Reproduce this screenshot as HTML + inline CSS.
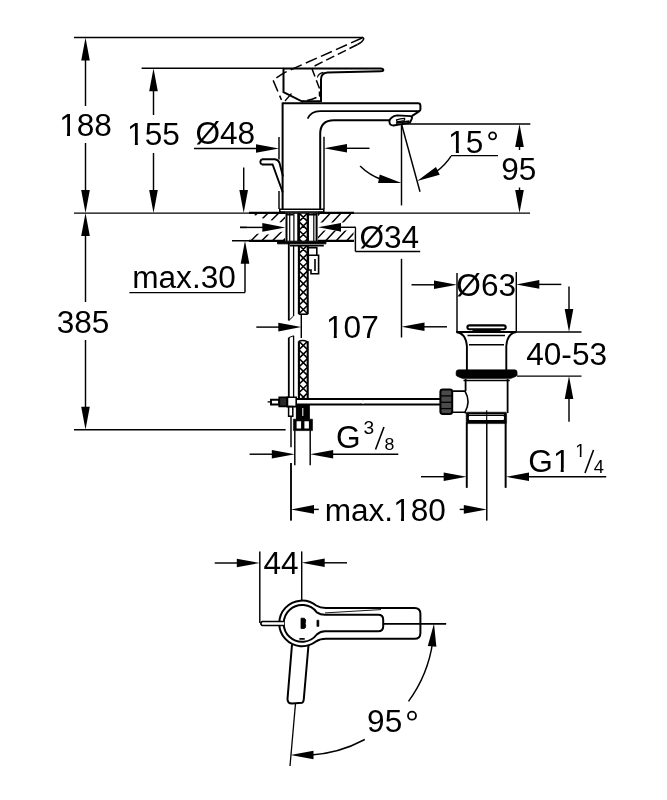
<!DOCTYPE html>
<html><head><meta charset="utf-8"><style>
html,body{margin:0;padding:0;background:#fff;}
svg{display:block;filter:grayscale(100%);}
text{font-family:"Liberation Sans",sans-serif;fill:#000;stroke:none;}
</style></head><body>
<svg width="667" height="800" viewBox="0 0 667 800" stroke="#000" stroke-linecap="butt">
<rect width="667" height="800" fill="#fff" stroke="none"/>
<g stroke="none">
</g>
<line x1="74" y1="37.5" x2="363" y2="37.5" stroke-width="1.45" />
<polygon points="85.50,37.50 81.20,60.50 89.80,60.50" fill="#000" stroke="none"/>
<line x1="85.5" y1="50" x2="85.5" y2="106" stroke-width="1.45" />
<text transform="translate(59.18,136.14) scale(1.02,1)" font-size="31">188</text>
<rect transform="translate(59.18,136.14) scale(1.02,1)" x="1.24" y="-3.72" width="6.39" height="4.65" fill="#fff" stroke="none"/>
<rect transform="translate(59.18,136.14) scale(1.02,1)" x="10.60" y="-3.72" width="6.76" height="4.65" fill="#fff" stroke="none"/>
<line x1="85.5" y1="143" x2="85.5" y2="200" stroke-width="1.45" />
<polygon points="85.50,213.10 89.80,190.10 81.20,190.10" fill="#000" stroke="none"/>
<line x1="74" y1="213.1" x2="530" y2="213.1" stroke-width="1.45" />
<polygon points="85.50,213.10 81.20,236.10 89.80,236.10" fill="#000" stroke="none"/>
<line x1="85.5" y1="225" x2="85.5" y2="302" stroke-width="1.45" />
<text transform="translate(56.70,332.75) scale(1.02,1)" font-size="31">385</text>
<line x1="85.5" y1="340" x2="85.5" y2="415" stroke-width="1.45" />
<polygon points="85.50,429.80 89.80,406.80 81.20,406.80" fill="#000" stroke="none"/>
<line x1="74" y1="429.8" x2="285.6" y2="429.8" stroke-width="1.45" />
<line x1="141.6" y1="68.2" x2="284" y2="68.2" stroke-width="1.45" />
<polygon points="153.50,68.20 149.20,91.20 157.80,91.20" fill="#000" stroke="none"/>
<line x1="153.5" y1="80" x2="153.5" y2="115" stroke-width="1.45" />
<text transform="translate(127.06,144.79) scale(1.02,1)" font-size="31">155</text>
<rect transform="translate(127.06,144.79) scale(1.02,1)" x="1.24" y="-3.72" width="6.39" height="4.65" fill="#fff" stroke="none"/>
<rect transform="translate(127.06,144.79) scale(1.02,1)" x="10.60" y="-3.72" width="6.76" height="4.65" fill="#fff" stroke="none"/>
<line x1="153.5" y1="153" x2="153.5" y2="200" stroke-width="1.45" />
<polygon points="153.50,213.10 157.80,190.10 149.20,190.10" fill="#000" stroke="none"/>
<text transform="translate(195.42,144.35) scale(1.02,1)" font-size="31">Ø48</text>
<line x1="194" y1="148.5" x2="262" y2="148.5" stroke-width="1.45" />
<polygon points="279.00,148.50 256.00,144.20 256.00,152.80" fill="#000" stroke="none"/>
<line x1="279" y1="137" x2="279" y2="159.5" stroke-width="1.45" />
<line x1="279" y1="191" x2="279" y2="209" stroke-width="1.45" />
<polygon points="324.00,148.30 347.00,152.60 347.00,144.00" fill="#000" stroke="none"/>
<line x1="340" y1="148.3" x2="369.5" y2="148.3" stroke-width="1.45" />
<line x1="324" y1="136.7" x2="324" y2="209" stroke-width="1.45" />
<line x1="243.7" y1="167.5" x2="243.7" y2="200" stroke-width="1.45" />
<polygon points="243.70,213.10 248.00,190.10 239.40,190.10" fill="#000" stroke="none"/>
<polygon points="245.00,240.70 240.70,263.70 249.30,263.70" fill="#000" stroke="none"/>
<line x1="245" y1="255" x2="245" y2="292.6" stroke-width="1.45" />
<line x1="129.4" y1="292.6" x2="245" y2="292.6" stroke-width="1.45" />
<text transform="translate(132.22,287.69) scale(1.02,1)" font-size="31">max.30</text>
<line x1="232" y1="240.7" x2="285" y2="240.7" stroke-width="1.45" />
<line x1="318" y1="240.7" x2="354" y2="240.7" stroke-width="1.45" />
<line x1="240" y1="227.4" x2="270" y2="227.4" stroke-width="1.45" />
<polygon points="285.30,227.40 262.30,223.10 262.30,231.70" fill="#000" stroke="none"/>
<polygon points="318.00,227.30 341.00,231.60 341.00,223.00" fill="#000" stroke="none"/>
<line x1="335" y1="227.3" x2="355.4" y2="227.3" stroke-width="1.45" />
<line x1="355.4" y1="227.3" x2="355.4" y2="251.5" stroke-width="1.45" />
<line x1="355.4" y1="251.5" x2="420.2" y2="251.5" stroke-width="1.45" />
<text transform="translate(359.46,248.00) scale(1.02,1)" font-size="31">Ø34</text>
<line x1="401.5" y1="124" x2="401.5" y2="205.4" stroke-width="1.45" />
<line x1="401.5" y1="258.8" x2="401.5" y2="337.5" stroke-width="1.45" />
<line x1="256.3" y1="327.1" x2="285" y2="327.1" stroke-width="1.45" />
<polygon points="301.30,327.10 278.30,322.80 278.30,331.40" fill="#000" stroke="none"/>
<line x1="301.3" y1="314" x2="301.3" y2="338" stroke-width="1.45" />
<polygon points="401.50,326.80 424.50,331.10 424.50,322.50" fill="#000" stroke="none"/>
<line x1="420" y1="326.8" x2="447" y2="326.8" stroke-width="1.45" />
<text transform="translate(325.98,337.65) scale(1.02,1)" font-size="31">107</text>
<rect transform="translate(325.98,337.65) scale(1.02,1)" x="1.24" y="-3.72" width="6.39" height="4.65" fill="#fff" stroke="none"/>
<rect transform="translate(325.98,337.65) scale(1.02,1)" x="10.60" y="-3.72" width="6.76" height="4.65" fill="#fff" stroke="none"/>
<line x1="457" y1="273" x2="457" y2="332" stroke-width="1.45" />
<line x1="516.3" y1="272" x2="516.3" y2="331.5" stroke-width="1.45" />
<line x1="411.5" y1="284.8" x2="440" y2="284.8" stroke-width="1.45" />
<polygon points="457.00,284.80 434.00,280.50 434.00,289.10" fill="#000" stroke="none"/>
<polygon points="516.30,284.40 539.30,288.70 539.30,280.10" fill="#000" stroke="none"/>
<line x1="535" y1="284.4" x2="561.3" y2="284.4" stroke-width="1.45" />
<text transform="translate(456.37,296.15) scale(1.02,1)" font-size="31">Ø63</text>
<line x1="569" y1="286.5" x2="569" y2="315" stroke-width="1.45" />
<polygon points="569.00,332.00 573.30,309.00 564.70,309.00" fill="#000" stroke="none"/>
<line x1="516" y1="332" x2="581.5" y2="332" stroke-width="1.45" />
<line x1="517" y1="376.1" x2="581.5" y2="376.1" stroke-width="1.45" />
<polygon points="569.00,376.10 564.70,399.10 573.30,399.10" fill="#000" stroke="none"/>
<line x1="569" y1="390" x2="569" y2="421.7" stroke-width="1.45" />
<text transform="translate(526.20,364.89) scale(1.02,1)" font-size="31">40-53</text>
<line x1="402" y1="124" x2="530.3" y2="124" stroke-width="1.45" />
<polygon points="519.50,124.00 515.20,147.00 523.80,147.00" fill="#000" stroke="none"/>
<line x1="519.5" y1="140" x2="519.5" y2="150" stroke-width="1.45" />
<text transform="translate(501.14,180.09) scale(1.02,1)" font-size="31">95</text>
<line x1="519.5" y1="187.5" x2="519.5" y2="200" stroke-width="1.45" />
<polygon points="519.50,213.10 523.80,190.10 515.20,190.10" fill="#000" stroke="none"/>
<line x1="401.5" y1="124" x2="420" y2="191.8" stroke-width="1.45" />
<path d="M360.07,166.01 A59,59 0 0 0 381.45,179.49" fill="none" stroke-width="1.45"/>
<polygon points="401.50,183.00 379.70,174.51 378.10,182.96" fill="#000" stroke="none"/>
<path d="M451.04,156.05 A59,59 0 0 1 435.56,172.17" fill="none" stroke-width="1.45"/>
<polygon points="417.17,180.88 439.72,174.63 435.94,166.91" fill="#000" stroke="none"/>
<line x1="451" y1="155.6" x2="498" y2="155.6" stroke-width="1.45" />
<text transform="translate(448.07,152.60) scale(1.02,1)" font-size="31">15</text>
<rect transform="translate(448.07,152.60) scale(1.02,1)" x="1.24" y="-3.72" width="6.39" height="4.65" fill="#fff" stroke="none"/>
<rect transform="translate(448.07,152.60) scale(1.02,1)" x="10.60" y="-3.72" width="6.76" height="4.65" fill="#fff" stroke="none"/>
<circle cx="492.6" cy="135.8" r="3.5" fill="none" stroke-width="1.8"/>
<line x1="294.8" y1="430.6" x2="294.8" y2="465.3" stroke-width="1.45" />
<line x1="310.2" y1="430.6" x2="310.2" y2="465.3" stroke-width="1.45" />
<line x1="249.6" y1="454.2" x2="275" y2="454.2" stroke-width="1.45" />
<polygon points="294.80,454.20 271.80,449.90 271.80,458.50" fill="#000" stroke="none"/>
<polygon points="310.20,454.20 333.20,458.50 333.20,449.90" fill="#000" stroke="none"/>
<line x1="330" y1="454.2" x2="398.3" y2="454.2" stroke-width="1.45" />
<text transform="translate(335.99,448.00) scale(1.02,1)" font-size="31">G</text>
<text transform="translate(363.50,434.30) scale(1.02,1)" font-size="18.8">3</text>
<line x1="375.5" y1="449.5" x2="384" y2="427" stroke-width="1.6" />
<text transform="translate(384.60,449.50) scale(1.02,1)" font-size="17.4">8</text>
<line x1="421" y1="476.7" x2="450" y2="476.7" stroke-width="1.45" />
<polygon points="466.70,476.70 443.70,472.40 443.70,481.00" fill="#000" stroke="none"/>
<polygon points="506.00,476.80 529.00,481.10 529.00,472.50" fill="#000" stroke="none"/>
<line x1="525" y1="476.8" x2="606.2" y2="476.8" stroke-width="1.45" />
<text transform="translate(528.30,472.20) scale(1.02,1)" font-size="31">G1</text>
<rect transform="translate(528.30,472.20) scale(1.02,1)" x="25.36" y="-3.72" width="6.39" height="4.65" fill="#fff" stroke="none"/>
<rect transform="translate(528.30,472.20) scale(1.02,1)" x="34.72" y="-3.72" width="6.76" height="4.65" fill="#fff" stroke="none"/>
<text transform="translate(575.20,456.90) scale(1.02,1)" font-size="18">1</text>
<rect transform="translate(575.20,456.90) scale(1.02,1)" x="0.72" y="-2.16" width="3.71" height="2.70" fill="#fff" stroke="none"/>
<rect transform="translate(575.20,456.90) scale(1.02,1)" x="6.16" y="-2.16" width="3.92" height="2.70" fill="#fff" stroke="none"/>
<line x1="585" y1="473" x2="593.5" y2="450" stroke-width="1.6" />
<text transform="translate(593.87,472.50) scale(1.02,1)" font-size="18">4</text>
<line x1="466.7" y1="423" x2="466.7" y2="487.7" stroke-width="1.6" />
<line x1="505.6" y1="423" x2="505.6" y2="487.7" stroke-width="1.6" />
<line x1="486.8" y1="412" x2="486.8" y2="520.4" stroke-width="1.1" />
<line x1="291" y1="463" x2="291" y2="520.4" stroke-width="1.45" />
<polygon points="291.00,509.40 314.00,513.70 314.00,505.10" fill="#000" stroke="none"/>
<line x1="310" y1="509.4" x2="318.8" y2="509.4" stroke-width="1.45" />
<text transform="translate(324.64,521.00) scale(1.02,1)" font-size="31">max.180</text>
<rect transform="translate(324.64,521.00) scale(1.02,1)" x="68.42" y="-3.72" width="6.39" height="4.65" fill="#fff" stroke="none"/>
<rect transform="translate(324.64,521.00) scale(1.02,1)" x="77.78" y="-3.72" width="6.76" height="4.65" fill="#fff" stroke="none"/>
<line x1="459.7" y1="509.4" x2="470" y2="509.4" stroke-width="1.45" />
<polygon points="486.80,509.40 463.80,505.10 463.80,513.70" fill="#000" stroke="none"/>
<line x1="259.8" y1="551.5" x2="259.8" y2="623" stroke-width="1.45" />
<line x1="301.7" y1="551.4" x2="301.7" y2="601" stroke-width="1.45" />
<line x1="214.7" y1="563" x2="240" y2="563" stroke-width="1.45" />
<polygon points="259.80,563.00 236.80,558.70 236.80,567.30" fill="#000" stroke="none"/>
<polygon points="301.70,562.80 324.70,567.10 324.70,558.50" fill="#000" stroke="none"/>
<line x1="320" y1="562.8" x2="347" y2="562.8" stroke-width="1.45" />
<text transform="translate(263.41,573.95) scale(1.02,1)" font-size="31">44</text>
<path d="M364.78,739.51 A132,132 0 0 1 309.02,755.21" fill="none" stroke-width="1.45"/>
<polygon points="290.50,754.90 313.48,759.29 313.51,750.69" fill="#000" stroke="none"/>
<path d="M408.52,701.36 A132,132 0 0 0 432.70,641.88" fill="none" stroke-width="1.45"/>
<polygon points="434.00,623.40 427.80,645.96 436.37,646.68" fill="#000" stroke="none"/>
<text transform="translate(367.09,731.70) scale(1.02,1)" font-size="31">95</text>
<circle cx="412" cy="715.7" r="4.0" fill="none" stroke-width="1.8"/>
<line x1="383" y1="623.7" x2="446" y2="623.7" stroke-width="1.45" />
<line x1="282.6" y1="102.5" x2="282.6" y2="209.5" stroke-width="2.0" />
<path d="M282.6,103.3 L418,103.3 Q420.4,103.3 420.4,105.7 L420.4,109.5 Q420.4,111 418.8,111.2" stroke-width="2.0" fill="none" />
<path d="M307.6,118.7 Q311,111.1 320,111.1 L419,111.1" stroke-width="1.6" fill="none" />
<line x1="419" y1="111.4" x2="411.8" y2="116.2" stroke-width="2.0" />
<path d="M320.2,209.5 L320.2,134 Q320.2,120.3 334,120.3 L389.6,120.3" stroke-width="2.0" fill="none" />
<path d="M389.4,121.7 Q389.6,119.3 391.2,118 Q393.8,115.6 397.2,115.4 L410.7,116.1 Q412.4,116.8 411.9,118.3 L410,122.6 L393.5,125.5 Q389.6,125.4 389.4,121.7 Z" stroke-width="1.9" fill="none" />
<path d="M396.5,119.9 Q400,118.6 404.7,118.4 Q405,120.2 404,120.6 Q400,121.6 396.9,121.7 Z" stroke-width="1.2" fill="none" />
<path d="M396,123.2 L409.5,121.2" stroke-width="1.8" fill="none" />
<path d="M279.8,209.3 L323.8,209.3 L323.8,212 L279.8,212 Z" stroke-width="1.6" fill="none" />
<path d="M283.5,68.5 L380.5,68.5 Q383.3,68.6 383.3,70 Q383.3,71.2 380.5,71.3 L327.5,72.6 Q321,73.2 321,79.5 L321,102" stroke-width="2.0" fill="none" />
<path d="M317.4,77.5 Q318.2,73.6 323.5,72.4" stroke-width="1.1" fill="none" />
<path d="M283.5,68.2 L283.5,92.2 L301.8,101.3 L321,101.3" stroke-width="2.0" fill="none" />
<path d="M362,37.4 Q366,38 361,42.5 L357.5,44.5" stroke-width="1.5" fill="none" />
<path d="M362,38 L284,72.8 L273,80 L281.5,100" stroke-width="1.5" fill="none" stroke-dasharray="12,4.5"/>
<path d="M357.5,44.5 L311.5,67.5 L319.5,88.5" stroke-width="1.5" fill="none" stroke-dasharray="9,4"/>
<path d="M319.5,91.5 L319.5,96 Q312,100 301,101.8" stroke-width="1.5" fill="none" stroke-dasharray="5,3,10,3"/>
<path d="M285,101 L291.5,93.5" stroke-width="1.2" fill="none" />
<path d="M261.8,159.3 L275,159.3 Q278.3,159.6 279.5,163 L283,176.5 M261.8,164.5 L272.6,164.5 L282.8,192.5" stroke-width="1.9" fill="none" />
<path d="M261.8,159.3 Q258.9,161.9 261.8,164.5" stroke-width="1.9" fill="none" />
<line x1="249" y1="212.9" x2="285" y2="212.9" stroke-width="2.2" />
<line x1="318" y1="212.9" x2="354" y2="212.9" stroke-width="2.2" />
<line x1="249" y1="240.8" x2="285" y2="240.8" stroke-width="2.2" />
<line x1="318" y1="240.8" x2="354" y2="240.8" stroke-width="2.2" />
<clipPath id="hL"><path d="M249,213 L285,213 L285,241 L249,241 Z"/></clipPath>
<clipPath id="hR"><path d="M318,213 L353.5,213 L353.5,241 L318,241 Z"/></clipPath>
<path d="M208.0,241 L236.0,213 M218.7,241 L246.7,213 M229.4,241 L257.4,213 M240.1,241 L268.1,213 M250.8,241 L278.8,213 M261.5,241 L289.5,213 M272.2,241 L300.2,213 M282.9,241 L310.9,213 M293.6,241 L321.6,213 M304.3,241 L332.3,213" stroke-width="1.5" clip-path="url(#hL)"/>
<path d="M283.5,241 L309.5,213 M294.0,241 L320.0,213 M304.5,241 L330.5,213 M315.0,241 L341.0,213 M325.5,241 L351.5,213 M336.0,241 L362.0,213 M346.5,241 L372.5,213 M357.0,241 L383.0,213 M367.5,241 L393.5,213 M378.0,241 L404.0,213" stroke-width="1.5" clip-path="url(#hR)"/>
<path d="M247,213.9 L255,215.2 L263,218.6 L272,220.5 L281,222.5 L287,223 L287,231.6 L282,231.8 L269,234.4 L259,233.8 L247,233.8 Z" fill="#fff" stroke="none"/>
<path d="M317,222.6 L354.6,222.4 L354.6,230.4 L317,230.4 Z M351,213.9 L354.6,213.9 L354.6,222.5 L351,222.5 Z" fill="#fff" stroke="none"/>
<line x1="240" y1="227.4" x2="270" y2="227.4" stroke-width="1.45" />
<polygon points="285.30,227.40 262.30,223.10 262.30,231.70" fill="#000" stroke="none"/>
<polygon points="318.00,227.30 341.00,231.60 341.00,223.00" fill="#000" stroke="none"/>
<line x1="335" y1="227.3" x2="355.4" y2="227.3" stroke-width="1.45" />
<line x1="286.5" y1="212.9" x2="286.5" y2="241" stroke-width="2.0" />
<line x1="289.7" y1="212.9" x2="289.7" y2="241" stroke-width="1.2" />
<line x1="293.9" y1="212.9" x2="293.9" y2="241" stroke-width="1.2" />
<line x1="298.2" y1="212.9" x2="298.2" y2="241" stroke-width="1.8" />
<line x1="308.3" y1="212.9" x2="308.3" y2="241" stroke-width="1.2" />
<line x1="313.8" y1="212.9" x2="313.8" y2="241" stroke-width="1.2" />
<line x1="316.6" y1="212.9" x2="316.6" y2="241" stroke-width="2.0" />
<path d="M287,214.8 L293.5,214.8 M307.5,214.8 L316,214.8" stroke-width="1.5" fill="none" />
<path d="M277.6,241.2 L325.9,241.2 L325.9,243.8 L277.6,243.8 Z" stroke-width="1.0" fill="#000" />
<line x1="290" y1="245.6" x2="323.8" y2="245.6" stroke-width="1.6" />
<line x1="288.8" y1="243" x2="288.8" y2="320.5" stroke-width="1.8" />
<line x1="293.6" y1="246" x2="293.6" y2="316" stroke-width="1.3" />
<line x1="288.8" y1="320.5" x2="293.6" y2="316" stroke-width="1.0" />
<line x1="288.8" y1="337.6" x2="288.8" y2="398" stroke-width="1.8" />
<line x1="293.6" y1="335.8" x2="293.6" y2="397" stroke-width="1.3" />
<line x1="288.8" y1="337.6" x2="293.6" y2="335.8" stroke-width="1.0" />
<line x1="298.9" y1="213" x2="298.9" y2="241" stroke-width="2.1" />
<line x1="307.7" y1="213" x2="307.7" y2="241" stroke-width="2.1" />
<clipPath id="br213"><rect x="298.9" y="213" width="8.8" height="28"/></clipPath>
<path d="M298.9,204.4 L307.7,213.0 M307.7,204.4 L298.9,213.0 M298.9,213.0 L307.7,221.6 M307.7,213.0 L298.9,221.6 M298.9,221.6 L307.7,230.2 M307.7,221.6 L298.9,230.2 M298.9,230.2 L307.7,238.8 M307.7,230.2 L298.9,238.8 M298.9,238.8 L307.7,247.4 M307.7,238.8 L298.9,247.4 M298.9,247.4 L307.7,256.0 M307.7,247.4 L298.9,256.0" stroke-width="1.6" clip-path="url(#br213)"/>
<line x1="298.9" y1="245" x2="298.9" y2="314.2" stroke-width="2.1" />
<line x1="307.7" y1="245" x2="307.7" y2="314.2" stroke-width="2.1" />
<clipPath id="br245"><rect x="298.9" y="245" width="8.8" height="69.19999999999999"/></clipPath>
<path d="M298.9,236.4 L307.7,245.0 M307.7,236.4 L298.9,245.0 M298.9,245.0 L307.7,253.6 M307.7,245.0 L298.9,253.6 M298.9,253.6 L307.7,262.2 M307.7,253.6 L298.9,262.2 M298.9,262.2 L307.7,270.8 M307.7,262.2 L298.9,270.8 M298.9,270.8 L307.7,279.4 M307.7,270.8 L298.9,279.4 M298.9,279.4 L307.7,288.0 M307.7,279.4 L298.9,288.0 M298.9,288.0 L307.7,296.6 M307.7,288.0 L298.9,296.6 M298.9,296.6 L307.7,305.2 M307.7,296.6 L298.9,305.2 M298.9,305.2 L307.7,313.8 M307.7,305.2 L298.9,313.8 M298.9,313.8 L307.7,322.4 M307.7,313.8 L298.9,322.4 M298.9,322.4 L307.7,331.0 M307.7,322.4 L298.9,331.0" stroke-width="1.6" clip-path="url(#br245)"/>
<line x1="298.9" y1="341.2" x2="298.9" y2="398" stroke-width="2.1" />
<line x1="307.7" y1="341.2" x2="307.7" y2="398" stroke-width="2.1" />
<clipPath id="br341"><rect x="298.9" y="341.2" width="8.8" height="56.80000000000001"/></clipPath>
<path d="M298.9,332.6 L307.7,341.2 M307.7,332.6 L298.9,341.2 M298.9,341.2 L307.7,349.8 M307.7,341.2 L298.9,349.8 M298.9,349.8 L307.7,358.4 M307.7,349.8 L298.9,358.4 M298.9,358.4 L307.7,367.0 M307.7,358.4 L298.9,367.0 M298.9,367.0 L307.7,375.6 M307.7,367.0 L298.9,375.6 M298.9,375.6 L307.7,384.2 M307.7,375.6 L298.9,384.2 M298.9,384.2 L307.7,392.8 M307.7,384.2 L298.9,392.8 M298.9,392.8 L307.7,401.4 M307.7,392.8 L298.9,401.4 M298.9,401.4 L307.7,410.0 M307.7,401.4 L298.9,410.0" stroke-width="1.6" clip-path="url(#br341)"/>
<line x1="298.9" y1="314.2" x2="307.7" y2="314.2" stroke-width="1.6" />
<path d="M298.9,341.2 Q303,339.5 307.7,341.8" stroke-width="1.3" fill="none" />
<path d="M308.3,247.6 L316.8,247.6 L316.8,255.3 L308.3,255.3 Z M308.3,255.3 L318.6,255.3 L318.6,273.7 L311,273.7 L311,270 L308.3,270 Z" stroke-width="1.6" fill="none" />
<line x1="315" y1="259" x2="315" y2="271" stroke-width="1.6" />
<line x1="296.4" y1="399.0" x2="440.4" y2="399.0" stroke-width="2.0" />
<line x1="296.4" y1="404.6" x2="440.4" y2="404.6" stroke-width="2.0" />
<path d="M360.5,405 L364,398.5" stroke-width="1.0" fill="none" />
<rect x="361" y="400.2" width="3" height="3.2" fill="#fff" stroke="none"/>
<line x1="267.6" y1="401.9" x2="270.5" y2="401.9" stroke-width="1.3" />
<path d="M271,399.7 L279.2,399.7 L279.2,404.5 L271,404.5 Z" stroke-width="1.9" fill="none" />
<path d="M279.3,397.4 L287.2,397.4 L287.2,406.4 L279.3,406.4 Z" stroke-width="1.8" fill="#2a2a2a" />
<path d="M287.4,397.2 L296.2,397.2 L296.2,406.6 L287.4,406.6 Z" stroke-width="1.6" fill="none" />
<path d="M288.6,406.6 L292.8,406.6 L292.8,416.2 L288.6,416.2 Z" stroke-width="1.5" fill="none" />
<path d="M296.4,404.5 L309.3,404.5 L309.3,419.2 L296.4,419.2 Z" stroke-width="1.0" fill="#000" />
<line x1="302.8" y1="408" x2="302.8" y2="416" stroke-width="1.0" stroke="#fff"/>
<path d="M293.4,419.2 L312.5,419.2 L312.5,430.6 L293.4,430.6 Z" stroke-width="0.6" fill="#000" />
<path d="M296.6,421.2 L301.1,421.2 L301.1,428.6 L296.6,428.6 Z M304.4,421.2 L308.9,421.2 L308.9,428.6 L304.4,428.6 Z" stroke-width="0" fill="#fff" stroke="none"/>
<path d="M291,416.5 L291,447.3 M291,463 L291,520.4" stroke-width="1.45" fill="none" />
<path d="M469.4,325.4 L503.7,325.4 Q505.7,325.4 505.7,327.3 Q505.7,329.2 503.7,329.2 L469.4,329.2 Q467.4,329.2 467.4,327.3 Q467.4,325.4 469.4,325.4 Z" stroke-width="2.1" fill="none" />
<line x1="472.5" y1="330.7" x2="500.6" y2="330.7" stroke-width="1.4" />
<path d="M456.2,332 L516.4,332 M516.4,332 Q507.5,333 506.3,346 L506.3,370.5 M456.2,332 Q465.7,333 466.9,346 L466.9,370.5" stroke-width="1.9" fill="none" />
<line x1="467.5" y1="335.5" x2="505" y2="335.5" stroke-width="1.4" />
<line x1="469" y1="344.7" x2="504" y2="344.7" stroke-width="1.4" />
<path d="M458.6,369.8 L514.6,369.8 Q517.1,369.8 517.1,372.3 L517.1,375.3 Q516.5,376.3 514,377.2 L510.5,378.6 L462.8,378.6 L459.2,377.2 Q456.7,376.3 456.1,375.3 L456.1,372.3 Q456.1,369.8 458.6,369.8 Z" stroke-width="0.6" fill="#000" />
<line x1="463.5" y1="380.5" x2="509.8" y2="380.5" stroke-width="1.3" />
<line x1="465.6" y1="379" x2="465.6" y2="391" stroke-width="1.8" />
<line x1="507.6" y1="379" x2="507.6" y2="413" stroke-width="1.8" />
<path d="M452.8,391.1 L465,391.1 Q471,401.5 465,412.2 L452.8,412.2" stroke-width="1.6" fill="none" />
<line x1="465.6" y1="412" x2="465.6" y2="413.5" stroke-width="1.8" />
<path d="M442.8,389.6 L450,389.6 Q452.2,389.6 452.2,392 L452.2,411.6 Q452.2,414 450,414 L442.8,414 Q440.4,414 440.4,411.6 L440.4,392 Q440.4,389.6 442.8,389.6 Z" stroke-width="2.0" fill="#4a4a4a" />
<line x1="441" y1="395.9" x2="451.6" y2="395.9" stroke-width="1.3" />
<line x1="441" y1="402.3" x2="451.6" y2="402.3" stroke-width="1.3" />
<line x1="441" y1="408.6" x2="451.6" y2="408.6" stroke-width="1.3" />
<path d="M467.5,412.2 L505.3,412.2 Q506.6,412.2 506.6,413.5 L506.6,422.3 Q506.6,423.6 505.3,423.6 L467.5,423.6 Q466.2,423.6 466.2,422.3 L466.2,413.5 Q466.2,412.2 467.5,412.2 Z" stroke-width="0.6" fill="#000" />
<path d="M469,413.9 L504,413.9 L504,414.6 L469,414.6 Z M469.2,416.1 L503.6,416.1 Q504.6,418.1 503.6,420.1 L469.2,420.1 Q468.2,418.1 469.2,416.1 Z" fill="#fff" stroke="none"/>
<line x1="466.7" y1="422.5" x2="466.7" y2="487.7" stroke-width="1.6" />
<line x1="505.6" y1="422.5" x2="505.6" y2="487.7" stroke-width="1.6" />
<line x1="486.7" y1="410.2" x2="486.7" y2="520.4" stroke-width="1.1" />
<path d="M326,607.9 L414.5,607.9 Q420.4,607.9 420.4,613.8 L420.4,632.9 Q420.4,638.8 414.5,638.8 L326,638.8 Q320,638.8 316.2,641.3 A22.8,22.8 0 1 1 316.2,605.5 Q320,607.9 326,607.9 Z" stroke-width="2.0" fill="none" />
<path d="M325,614.75 Q320.5,614.75 316.8,612.3 A18.4,18.4 0 1 0 316.8,634.5 Q320.5,631.3 325,631.3 L378.2,631.3 Q383.2,631.3 383.2,626.3 L383.2,619.7 Q383.2,614.75 378.2,614.75 Z" stroke-width="2.0" fill="none" />
<line x1="325" y1="612.9" x2="381" y2="609.6" stroke-width="0.9" />
<line x1="383.2" y1="623.7" x2="446.2" y2="623.7" stroke-width="1.45" />
<rect x="276" y="621.2" width="8" height="4.6" fill="#fff" stroke="none"/>
<path d="M262,621.5 L284,621.5 M262,625.5 L284,625.5 M262,621.5 Q259.7,623.5 262,625.5" stroke-width="1.7" fill="none" />
<path d="M301,618.2 L304.2,618.2 Q305.7,618.6 305.7,621 L305.2,623.4 L305.7,625.8 Q305.7,628.4 304.2,628.5 L301,628.5 Z" stroke-width="0.8" fill="#000" />
<path d="M316.9,620.2 L318.9,620.2 L318.9,626.4 L316.9,626.4 Z" stroke-width="0.6" fill="#000" />
<path d="M299.4,638.9 L304.7,638.9" stroke-width="1.7" fill="none" />
<path d="M292,644.5 L287.5,699 Q287.5,703.5 292,703.5 L302,702.8 Q303.5,702.5 303.8,699 L308.5,645" stroke-width="2.0" fill="none" />
<line x1="295.5" y1="703.5" x2="290" y2="766" stroke-width="1.3" />
</svg></body></html>
